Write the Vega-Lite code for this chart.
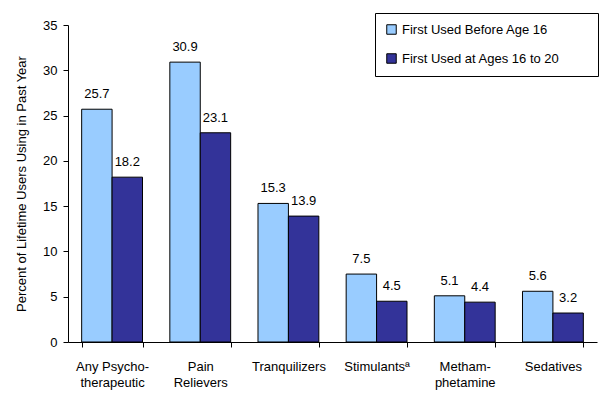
{
  "$schema": "https://vega.github.io/schema/vega-lite/v6.json",
  "width": 529,
  "height": 317,
  "autosize": "none",
  "padding": {"left": 68, "top": 25, "right": 13, "bottom": 59},
  "background": "white",
  "config": {
    "font": "Liberation Sans",
    "view": {"stroke": null},
    "axis": {"labelFont": "Liberation Sans", "titleFont": "Liberation Sans", "labelColor": "black", "titleColor": "black", "domainColor": "black", "tickColor": "black"}
  },
  "data": {
    "values": [
      {"drug": "Any Psycho-|therapeutic", "group": "First Used Before Age 16", "value": 25.7},
      {"drug": "Any Psycho-|therapeutic", "group": "First Used at Ages 16 to 20", "value": 18.2},
      {"drug": "Pain|Relievers", "group": "First Used Before Age 16", "value": 30.9},
      {"drug": "Pain|Relievers", "group": "First Used at Ages 16 to 20", "value": 23.1},
      {"drug": "Tranquilizers", "group": "First Used Before Age 16", "value": 15.3},
      {"drug": "Tranquilizers", "group": "First Used at Ages 16 to 20", "value": 13.9},
      {"drug": "Stimulantsª", "group": "First Used Before Age 16", "value": 7.5},
      {"drug": "Stimulantsª", "group": "First Used at Ages 16 to 20", "value": 4.5},
      {"drug": "Metham-|phetamine", "group": "First Used Before Age 16", "value": 5.1},
      {"drug": "Metham-|phetamine", "group": "First Used at Ages 16 to 20", "value": 4.4},
      {"drug": "Sedatives", "group": "First Used Before Age 16", "value": 5.6},
      {"drug": "Sedatives", "group": "First Used at Ages 16 to 20", "value": 3.2}
    ]
  },
  "encoding": {
    "x": {
      "field": "drug", "type": "nominal", "sort": null,
      "scale": {"paddingInner": 0.31, "paddingOuter": 0.155},
      "axis": {"title": null, "labelAngle": 0, "labelExpr": "split(datum.label, '|')", "labelFontSize": 13, "labelPadding": 13, "tickBand": "extent", "tickSize": 5, "labelLineHeight": 16}
    },
    "xOffset": {"field": "group", "type": "nominal", "sort": ["First Used Before Age 16", "First Used at Ages 16 to 20"]},
    "y": {
      "field": "value", "type": "quantitative",
      "scale": {"domain": [0, 35]},
      "axis": {"title": "Percent of Lifetime Users Using in Past Year", "titleFontSize": 13, "titleFontWeight": "normal", "labelFontSize": 13, "values": [0,5,10,15,20,25,30,35], "grid": false, "tickSize": 5, "labelPadding": 6, "titlePadding": 14}
    }
  },
  "layer": [
    {
      "mark": {"type": "bar", "stroke": "black", "strokeWidth": 1},
      "encoding": {
        "color": {
          "field": "group", "type": "nominal",
          "sort": ["First Used Before Age 16", "First Used at Ages 16 to 20"],
          "scale": {"domain": ["First Used Before Age 16", "First Used at Ages 16 to 20"], "range": ["#99CCFF", "#333399"]},
          "legend": {
            "title": null, "orient": "none", "legendX": 307, "legendY": -12,
            "direction": "vertical",
            "strokeColor": "black", "fillColor": "white", "padding": 10,
            "labelFontSize": 13, "labelFont": "Liberation Sans", "labelColor": "black", "labelLimit": 400,
            "labelExpr": "datum.label + '\u00a0\u00a0\u00a0\u00a0\u00a0\u2800'",
            "symbolType": "square", "symbolSize": 90, "symbolStrokeColor": "black", "symbolStrokeWidth": 1,
            "rowPadding": 14, "labelOffset": 4
          }
        }
      }
    },
    {
      "mark": {"type": "text", "baseline": "bottom", "dy": -8, "fontSize": 13, "color": "black"},
      "encoding": {"text": {"field": "value", "type": "quantitative", "format": ".1f"}}
    }
  ]
}
